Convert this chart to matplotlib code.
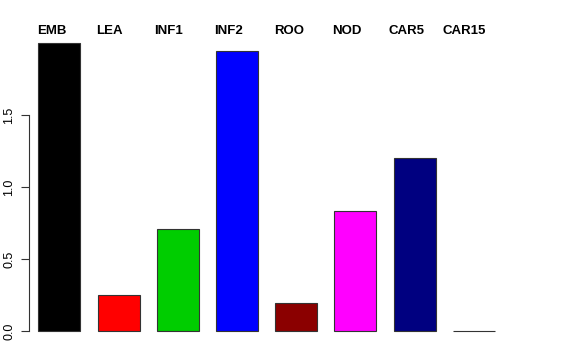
import matplotlib
matplotlib.use("Agg")
import matplotlib.pyplot as plt
import matplotlib.transforms as mtransforms

tissues = ["EMB", "LEA", "INF1", "INF2", "ROO", "NOD", "CAR5", "CAR15"]
values = [2.0, 0.25, 0.708, 1.944, 0.194, 0.833, 1.20, 0.003]
colors = ["#000000", "#FF0000", "#00CD00", "#0000FF", "#8B0000", "#FF00FF", "#000080", "#BEBEBE"]
yticks = [0.0, 0.5, 1.0, 1.5]
# left edge of each top label, relative to its bar centre (bar spacing units)
label_nudge = [-0.375, -0.385, -0.40, -0.39, -0.375, -0.39, -0.44, -0.53]

plt.rcParams["font.family"] = ["Liberation Sans", "DejaVu Sans"]

fig = plt.figure(figsize=(5.76, 3.6), dpi=100)
ax = fig.add_axes([29 / 576, 17.5 / 360, 483 / 576, 311 / 360])

positions = list(range(len(tissues)))
ax.bar(positions, values, width=0.71, color=colors, edgecolor="#333333", linewidth=0.8)

ax.set_xlim(-0.515, 7.647)
ax.set_ylim(-0.08, 2.08)

for side in ["top", "right", "bottom"]:
    ax.spines[side].set_visible(False)
ax.spines["left"].set_bounds(0, 1.5)
ax.spines["left"].set_color("#333333")
ax.set_xticks([])
ax.set_yticks(yticks)
ax.set_yticklabels([f"{v:.1f}" for v in yticks], rotation=90, va="center", fontsize=9)
ax.tick_params(axis="y", length=6, color="#333333", pad=4)

trans = mtransforms.blended_transform_factory(ax.transData, ax.transAxes)
for x, name, nudge in zip(positions, tissues, label_nudge):
    ax.text(x + nudge, 0.992, name, transform=trans, ha="left", va="baseline",
            fontsize=9.5, fontweight="bold")

fig.savefig("out.png", dpi=100)
